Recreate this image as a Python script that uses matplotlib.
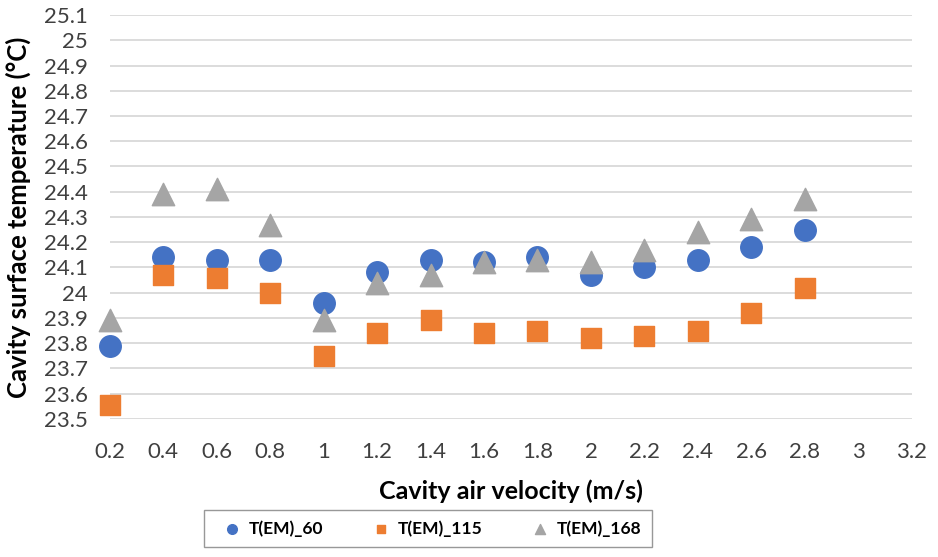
import matplotlib.pyplot as plt
import numpy as np

plt.rcParams['font.family'] = ['Lato', 'DejaVu Sans']

# data
velocity = [0.2, 0.4, 0.6, 0.8, 1.0, 1.2, 1.4, 1.6, 1.8, 2.0, 2.2, 2.4, 2.6, 2.8]
t_em_60 = [23.79, 24.14, 24.13, 24.13, 23.96, 24.08, 24.13, 24.12, 24.14, 24.07, 24.10, 24.13, 24.18, 24.25]
t_em_115 = [23.555, 24.07, 24.06, 24.00, 23.75, 23.84, 23.89, 23.84, 23.85, 23.82, 23.83, 23.85, 23.92, 24.02]
t_em_168 = [23.89, 24.39, 24.41, 24.27, 23.89, 24.04, 24.07, 24.12, 24.13, 24.12, 24.17, 24.24, 24.29, 24.37]

xticks = np.round(np.arange(0.2, 3.21, 0.2), 1)
yticks = np.round(np.arange(23.5, 25.11, 0.1), 1)

fig = plt.figure(figsize=(9.38, 5.57), dpi=100)
ax = fig.add_axes([0.117, 0.248, 0.855, 0.725])

ax.scatter(velocity, t_em_60, s=240, marker='o', color='#4472C4', label='T(EM)_60', zorder=3, clip_on=False)
ax.scatter(velocity, t_em_115, s=200, marker='s', color='#ED7D31', label='T(EM)_115', zorder=3, clip_on=False)
ax.scatter(velocity, t_em_168, s=260, marker='^', color='#A5A5A5', label='T(EM)_168', zorder=3, clip_on=False)

ax.set(xlim=(0.2, 3.2), ylim=(23.5, 25.1))
ax.set_xticks(xticks)
ax.set_xticklabels(['%g' % v for v in xticks])
ax.set_yticks(yticks)
ax.set_yticklabels(['%g' % v for v in yticks])
ax.grid(axis='y', color='#d9d9d9', linewidth=1.3)
ax.set_axisbelow(True)
for s in ax.spines.values():
    s.set_visible(False)
ax.tick_params(length=0, labelsize=16, colors='#404040', pad=16)
ax.tick_params(axis='x', pad=17)

ax.set_xlabel('Cavity air velocity (m/s)', fontsize=18, fontweight='bold', labelpad=12)
ax.set_ylabel('Cavity surface temperature (\u00b0C)', fontsize=18.5, fontweight='bold', labelpad=9)

leg = fig.legend(loc='upper left', bbox_to_anchor=(204 / 938, 1 - 510 / 557, 448 / 938, 0.0),
                 mode='expand', ncol=3, fontsize=12.5, frameon=True, fancybox=False,
                 handletextpad=0.0, borderaxespad=0, markerscale=0.45, borderpad=0.6)
leg.get_frame().set_edgecolor('#7f7f7f')
leg.get_frame().set_linewidth(1)
for t in leg.get_texts():
    t.set_fontweight('bold')

fig.savefig('out.png', dpi=100)
